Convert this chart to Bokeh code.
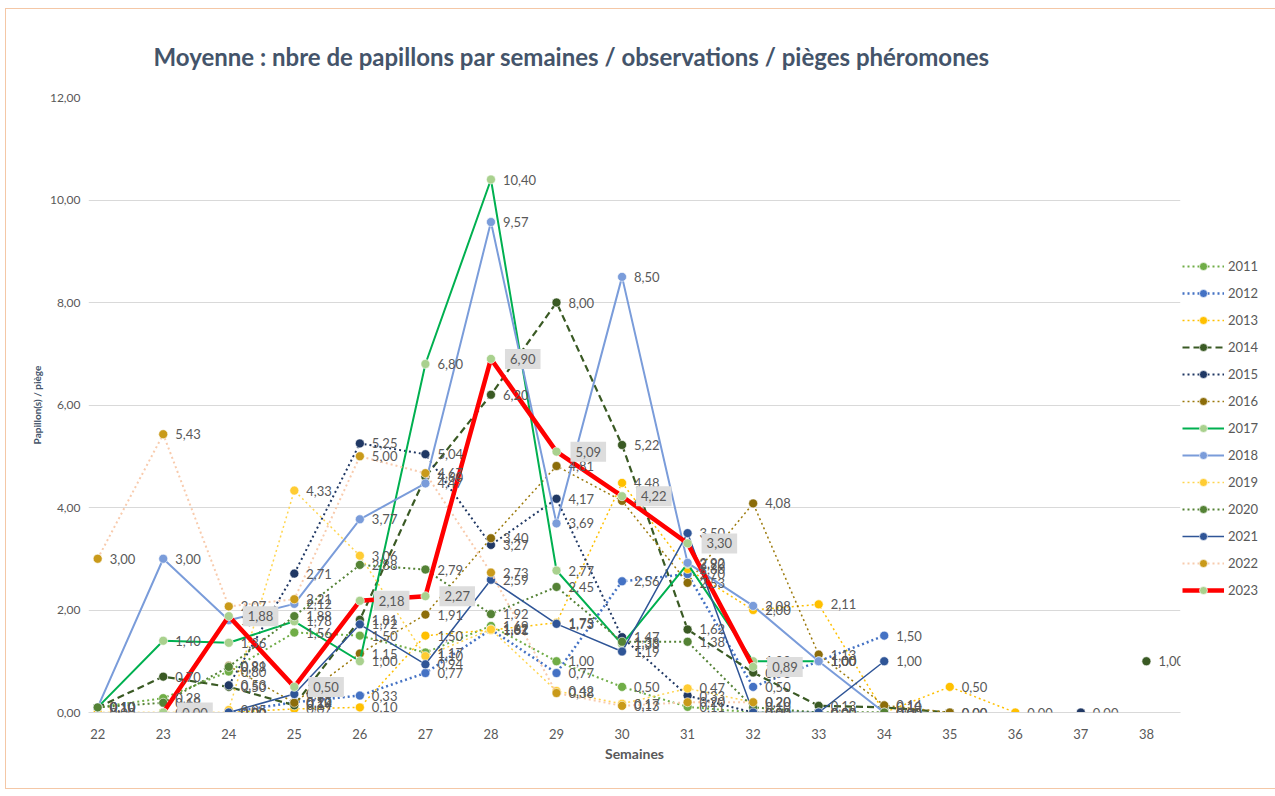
import math
from bokeh.plotting import figure
from bokeh.models import (ColumnDataSource, LabelSet, Label, Legend, LegendItem,
                          CustomJSTickFormatter, FixedTicker, Title, Range1d)
from bokeh.core.properties import value
from bokeh.embed import file_html
from bokeh.resources import INLINE

N = None
weeks = list(range(22, 39))

# values per week 22..38
y2011 = [0.10, 0.28, 0.80, 1.56, 1.50, 1.17, 1.69, 1.00, 0.50, 0.11, 0.00, 0.00, 0.00, N, N, N, N]
y2012 = [N, N, 0.00, 0.20, 0.33, 0.77, 1.62, 0.77, 2.56, 2.70, 0.50, 1.00, 1.50, N, N, N, N]
y2013 = [0.00, 0.00, 0.00, 0.07, 0.10, 1.50, 1.61, 1.75, 4.48, 2.80, 2.00, 2.11, 0.00, 0.50, 0.00, N, N]
y2014 = [0.10, 0.70, 0.50, 0.14, 1.81, 4.60, 6.20, 8.00, 5.22, 1.62, 0.78, 0.13, 0.10, 0.00, N, N, 1.00]
y2015 = [N, N, 0.53, 2.71, 5.25, 5.04, 3.27, 4.17, 1.47, 0.33, 0.00, N, N, N, N, 0.00, N]
y2016 = [N, N, 0.91, 0.19, 1.15, 1.91, 3.40, 4.81, 4.13, 2.53, 4.08, 1.13, 0.14, 0.00, N, N, N]
y2017 = [0.10, 1.40, 1.36, 1.78, 1.00, 6.80, 10.40, 2.77, 1.33, 2.90, 1.00, 1.00, N, N, N, N, N]
y2018 = [0.10, 3.00, 1.80, 2.12, 3.77, 4.47, 9.57, 3.69, 8.50, 2.92, 2.08, 1.00, 0.00, N, N, N, N]
y2019 = [N, N, 0.05, 4.33, 3.06, 1.10, 1.62, 0.42, 0.17, 0.47, 0.20, N, N, N, N, N, N]
y2020 = [0.10, 0.19, 0.89, 1.88, 2.88, 2.79, 1.92, 2.45, 1.38, 1.38, 0.10, 0.00, 0.00, N, N, N, N]
y2021 = [N, N, 0.00, 0.36, 1.72, 0.94, 2.59, 1.73, 1.19, 3.50, 0.00, 0.00, 1.00, N, N, N, N]
y2022 = [3.00, 5.43, 2.07, 2.21, 5.00, 4.67, 2.73, 0.38, 0.13, 0.20, 0.20, N, N, N, N, N, N]
y2023 = [N, 0.00, 1.88, 0.50, 2.18, 2.27, 6.90, 5.09, 4.22, 3.30, 0.89, N, N, N, N, N, N]

series_names = ["2011", "2012", "2013", "2014", "2015", "2016", "2017",
                "2018", "2019", "2020", "2021", "2022", "2023"]
series_values = [y2011, y2012, y2013, y2014, y2015, y2016, y2017,
                 y2018, y2019, y2020, y2021, y2022, y2023]

# (line colour, dash, width, marker colour)
styles = {
    "2011": ("#70AD47", "2 3", 2, "#70AD47"),
    "2012": ("#4472C4", "2 3", 2.5, "#4472C4"),
    "2013": ("#FFC000", "2 3", 1.5, "#FFC000"),
    "2014": ("#3A5A24", "7 4", 2.2, "#3A5A24"),
    "2015": ("#203864", "2 3", 2, "#203864"),
    "2016": ("#9C7A0C", "2 3", 1.5, "#8C6D0A"),
    "2017": ("#00B050", "solid", 2, "#A9D18E"),
    "2018": ("#7A9CDA", "solid", 2, "#7A9CDA"),
    "2019": ("#FFD54F", "2 3", 1.5, "#FFCC33"),
    "2020": ("#548235", "2 3", 2, "#548235"),
    "2021": ("#2F5597", "solid", 1.5, "#2F5597"),
    "2022": ("#F8CBAD", "2 3", 2, "#C99A1A"),
    "2023": ("#FF0000", "solid", 4.5, "#A9D18E"),
}

FONT = "Lato"
GREY = "#595959"

p = figure(frame_width=1092, frame_height=615, min_border_left=82,
           min_border_right=87, min_border_top=88, min_border_bottom=76,
           output_backend="svg", toolbar_location=None,
           x_range=Range1d(21.86, 38.52), y_range=Range1d(0, 12))
p.styles = {"border": "1px solid #F4C7A6", "margin-left": "5px", "margin-top": "8px"}
p.outline_line_color = None
p.background_fill_color = "white"

title = Title(text="Moyenne : nbre de papillons par semaines / observations / pièges phéromones",
              align="left", offset=65, standoff=53, text_font=FONT,
              text_font_size="24px", text_font_style="bold", text_color="#44546A")
p.add_layout(title, "above")

p.xgrid.grid_line_color = None
p.ygrid.grid_line_color = "#D9D9D9"
p.ygrid.ticker = FixedTicker(ticks=[0, 2, 4, 6, 8, 10, 12])

p.yaxis.ticker = FixedTicker(ticks=[0, 2, 4, 6, 8, 10, 12])
p.yaxis.formatter = CustomJSTickFormatter(code="return tick.toFixed(2).replace('.', ',');")
p.yaxis.axis_line_color = None
p.yaxis.major_tick_line_color = None
p.yaxis.minor_tick_line_color = None
p.yaxis.major_label_standoff = 2
p.yaxis.major_label_text_font = FONT
p.yaxis.major_label_text_font_size = "12px"
p.yaxis.major_label_text_color = GREY
p.yaxis.axis_label = "Papillon(s) / piège"
p.yaxis.axis_label_text_font = FONT
p.yaxis.axis_label_text_font_size = "10px"
p.yaxis.axis_label_text_font_style = "bold"
p.yaxis.axis_label_text_color = "#44546A"
p.yaxis.axis_label_standoff = 4

p.xaxis.ticker = FixedTicker(ticks=weeks)
p.xaxis.axis_line_color = "#D9D9D9"
p.xaxis.major_tick_line_color = None
p.xaxis.minor_tick_line_color = None
p.xaxis.major_label_standoff = 10
p.xaxis.major_label_text_font = FONT
p.xaxis.major_label_text_font_size = "13px"
p.xaxis.major_label_text_color = GREY
p.xaxis.axis_label = "Semaines"
p.xaxis.axis_label_text_font = FONT
p.xaxis.axis_label_text_font_size = "14px"
p.xaxis.axis_label_text_font_style = "bold"
p.xaxis.axis_label_text_color = GREY
p.xaxis.axis_label_standoff = 3


def fmt(v):
    return f"{v:.2f}".replace(".", ",")


items = []
label_sources = []
for name, vals in zip(series_names, series_values):
    lc, dash, lw, mc = styles[name]
    ys = [float("nan") if v is None else v for v in vals]
    line_src = ColumnDataSource(dict(x=weeks, y=ys))
    pts_x = [w for w, v in zip(weeks, vals) if v is not None]
    pts_y = [v for v in vals if v is not None]
    pts_src = ColumnDataSource(dict(x=pts_x, y=pts_y, t=[fmt(v) for v in pts_y]))
    lr = p.line("x", "y", source=line_src, line_color=lc, line_width=lw,
                line_dash=dash)
    sr = p.scatter("x", "y", source=pts_src, size=9, fill_color=mc,
                   line_color="white", line_width=0.6)
    items.append(LegendItem(label=name, renderers=[lr, sr]))
    label_sources.append((name, pts_src, pts_x, pts_y))

for name, src, xs, ys in label_sources:
    if name == "2023":
        for xv, yv in zip(xs, ys):
            p.add_layout(Label(x=xv, y=yv, text=fmt(yv), x_offset=14,
                               text_baseline="middle", text_font=FONT,
                               text_font_size="13px", text_color=GREY,
                               background_fill_color="#DDDDDD", padding=5))
    else:
        ls = LabelSet(x="x", y="y", text="t", source=src, x_offset=12,
                      text_baseline="middle", text_font=value(FONT),
                      text_font_size="13px", text_color=GREY)
        p.add_layout(ls)

legend = Legend(items=items, location=(2, 112), border_line_color=None,
                background_fill_alpha=0, padding=4, margin=0, spacing=7,
                glyph_width=42, glyph_height=20, label_height=20,
                label_standoff=4, label_text_font=FONT,
                label_text_font_size="13px", label_text_color=GREY)
p.add_layout(legend, "right")

open("out.html", "w").write(file_html(p, INLINE))
